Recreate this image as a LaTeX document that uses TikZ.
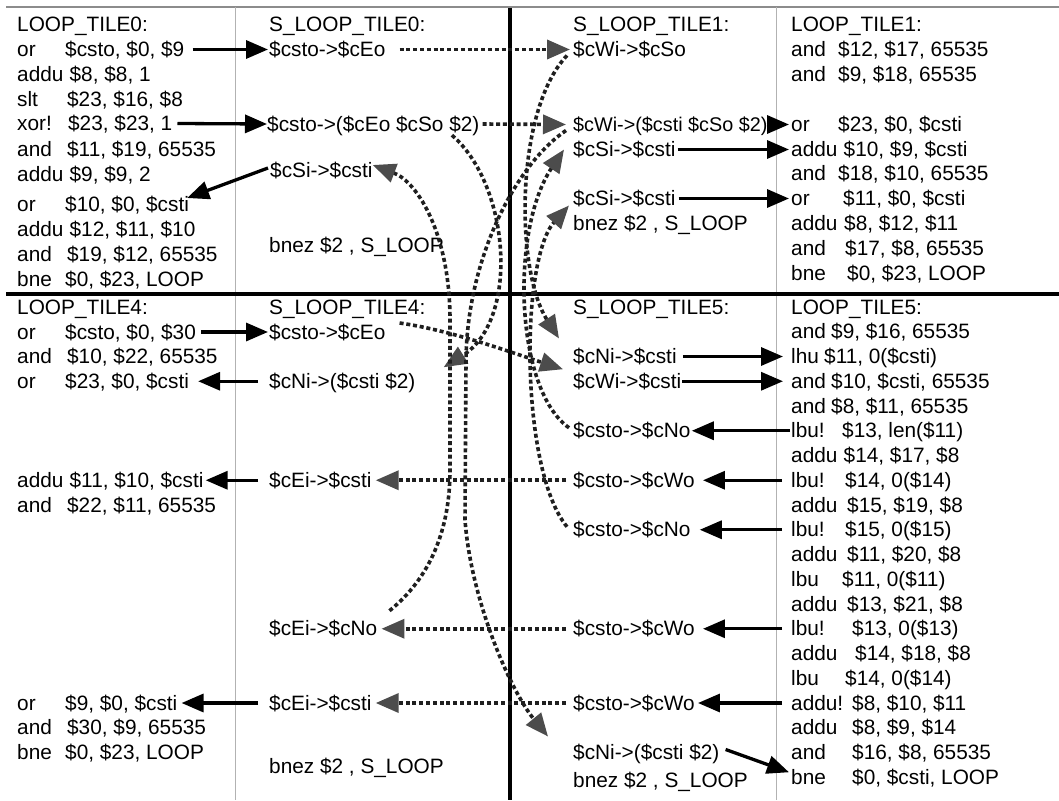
\documentclass[tikz,border=0pt]{standalone}
\usepackage{fontspec}
\setmainfont{Liberation Sans}
\usetikzlibrary{arrows.meta,calc}
\newcommand\op[3][50pt]{\makebox[#1][l]{#2}#3}
\tikzset{
  txt/.style={anchor=west, inner sep=0pt, text height=18pt, text depth=4pt, font=\fontsize{20.8}{25}\selectfont},
  sarrow/.style={line width=3.3pt, -{Triangle[length=22pt,width=18pt]}},
  darrow/.style={line width=3.6pt, dash pattern=on 4pt off 2.8pt, draw=black!88, -{Triangle[length=23pt,width=19pt,color=black!70]}},
  thinrule/.style={line width=1pt, draw=black!30},
  thickrule/.style={line width=3.5pt, draw=black},
}
\begin{document}
\begin{tikzpicture}[x=1pt,y=-1pt]
\useasboundingbox (0,0) rectangle (1059,800);
\fill[white] (0,0) rectangle (1059,800);
% frame lines
\draw[line width=1.5pt, draw=black!45] (6,7) -- (1059,7);
\draw[thinrule] (235,7) -- (235,800);
\draw[thinrule] (776,7) -- (776,800);
\draw[thickrule] (6,294) -- (1059,294);
\draw[thickrule] (510,8) -- (510,800);

% ---- top left: LOOP_TILE0
\node[txt] (L0h) at (17,25) {LOOP\_TILE0:};
\node[txt] (L0a) at (17,49.5) {\op[48pt]{or}{\$csto, \$0, \$9}};
\node[txt] (L0b) at (17,74.5) {\op[52.5pt]{addu}{\$8, \$8, 1}};
\node[txt] (L0c) at (17,99) {\op{slt}{\$23, \$16, \$8}};
\node[txt] (L0d) at (17,123.5) {\op[51pt]{xor!}{\$23, \$23, 1}};
\node[txt] (L0e) at (17,149) {\op{and}{\$11, \$19, 65535}};
\node[txt] (L0f) at (17,174) {\op[52.5pt]{addu}{\$9, \$9, 2}};
\node[txt] (L0g) at (17,204) {\op[48pt]{or}{\$10, \$0, \$csti}};
\node[txt] (L0k) at (17,229) {\op[52.5pt]{addu}{\$12, \$11, \$10}};
\node[txt] (L0i) at (17,254) {\op{and}{\$19, \$12, 65535}};
\node[txt] (L0j) at (17,279) {\op[48pt]{bne}{\$0, \$23, LOOP}};

% ---- S_LOOP_TILE0
\node[txt] (S0h) at (269,25) {S\_LOOP\_TILE0:};
\node[txt] (S0a) at (269,49.5) {\$csto->\$cEo};
\node[txt] (S0b) at (267,124) {\$csto->(\$cEo \$cSo \$2)};
\node[txt] (S0c) at (270,170) {\$cSi->\$csti};
\node[txt] (S0d) at (269,245) {bnez \$2 , S\_LOOP};

% ---- S_LOOP_TILE1
\node[txt] (S1h) at (573,25) {S\_LOOP\_TILE1:};
\node[txt] (S1a) at (573,49.5) {\$cWi->\$cSo};
\node[txt, font=\fontsize{19.8}{24}\selectfont] (S1b) at (573,124.5) {\$cWi->(\$csti \$cSo \$2)};
\node[txt] (S1c) at (573,149.5) {\$cSi->\$csti};
\node[txt] (S1d) at (573,198.5) {\$cSi->\$csti};
\node[txt] (S1e) at (573,223.5) {bnez \$2 , S\_LOOP};

% ---- LOOP_TILE1
\node[txt] (L1h) at (791,25) {LOOP\_TILE1:};
\node[txt] (L1a) at (791,49.5) {\op[47pt]{and}{\$12, \$17, 65535}};
\node[txt] (L1b) at (791,74.5) {\op[47pt]{and}{\$9, \$18, 65535}};
\node[txt] (L1c) at (791,124.5) {\op[47pt]{or}{\$23, \$0, \$csti}};
\node[txt] (L1d) at (791,149.5) {\op[52.5pt]{addu}{\$10, \$9, \$csti}};
\node[txt] (L1e) at (791,173.5) {\op[47pt]{and}{\$18, \$10, 65535}};
\node[txt] (L1f) at (791,198.5) {\op[52pt]{or}{\$11, \$0, \$csti}};
\node[txt] (L1g) at (791,223.5) {\op[53pt]{addu}{\$8, \$12, \$11}};
\node[txt] (L1k) at (791,248) {\op[54pt]{and}{\$17, \$8, 65535}};
\node[txt] (L1i) at (791,273) {\op[56pt]{bne}{\$0, \$23, LOOP}};

% ---- LOOP_TILE4
\node[txt] (L4h) at (17,307) {LOOP\_TILE4:};
\node[txt] (L4a) at (17,332) {\op[48pt]{or}{\$csto, \$0, \$30}};
\node[txt] (L4b) at (17,356.5) {\op{and}{\$10, \$22, 65535}};
\node[txt] (L4c) at (17,381.25) {\op[48pt]{or}{\$23, \$0, \$csti}};
\node[txt] (L4d) at (17,480.25) {\op[52.5pt]{addu}{\$11, \$10, \$csti}};
\node[txt] (L4e) at (17,505) {\op{and}{\$22, \$11, 65535}};
\node[txt] (L4f) at (17,703) {\op[48pt]{or}{\$9, \$0, \$csti}};
\node[txt] (L4g) at (17,727.5) {\op{and}{\$30, \$9, 65535}};
\node[txt] (L4i) at (17,752) {\op[48pt]{bne}{\$0, \$23, LOOP}};

% ---- S_LOOP_TILE4
\node[txt] (S4h) at (269,307) {S\_LOOP\_TILE4:};
\node[txt] (S4a) at (269,332) {\$csto->\$cEo};
\node[txt] (S4b) at (269,381.25) {\$cNi->(\$csti \$2)};
\node[txt] (S4c) at (269,480.25) {\$cEi->\$csti};
\node[txt] (S4d) at (269,628.75) {\$cEi->\$cNo};
\node[txt] (S4e) at (269,703) {\$cEi->\$csti};
\node[txt] (S4f) at (269,766) {bnez \$2 , S\_LOOP};

% ---- S_LOOP_TILE5
\node[txt] (S5h) at (573,307) {S\_LOOP\_TILE5:};
\node[txt] (S5a) at (573,356.5) {\$cNi->\$csti};
\node[txt] (S5b) at (573,381.25) {\$cWi->\$csti};
\node[txt] (S5c) at (573,430.75) {\$csto->\$cNo};
\node[txt] (S5d) at (573,480.25) {\$csto->\$cWo};
\node[txt] (S5e) at (573,529.75) {\$csto->\$cNo};
\node[txt] (S5f) at (573,628.75) {\$csto->\$cWo};
\node[txt] (S5g) at (573,703) {\$csto->\$cWo};
\node[txt] (S5i) at (573,752.5) {\$cNi->(\$csti \$2)};
\node[txt] (S5j) at (573,780) {bnez \$2 , S\_LOOP};

% ---- LOOP_TILE5
\node[txt] (L5a) at (791,307) {LOOP\_TILE5:};
\node[txt] (L5b) at (791,331.75) {\op[40pt]{and}{\$9, \$16, 65535}};
\node[txt] (L5c) at (791,356.5) {\op[33pt]{lhu}{\$11, 0(\$csti)}};
\node[txt] (L5d) at (791,381.25) {\op[40pt]{and}{\$10, \$csti, 65535}};
\node[txt] (L5e) at (791,406) {\op[40pt]{and}{\$8, \$11, 65535}};
\node[txt] (L5f) at (791,430.75) {\op[51pt]{lbu!}{\$13, len(\$11)}};
\node[txt] (L5g) at (791,455.5) {\op[52.5pt]{addu}{\$14, \$17, \$8}};
\node[txt] (L5k) at (791,480.25) {\op[54pt]{lbu!}{\$14, 0(\$14)}};
\node[txt] (L5l) at (791,505) {\op[56pt]{addu}{\$15, \$19, \$8}};
\node[txt] (L5m) at (791,529.75) {\op[54pt]{lbu!}{\$15, 0(\$15)}};
\node[txt] (L5n) at (791,554.5) {\op[56pt]{addu}{\$11, \$20, \$8}};
\node[txt] (L5o) at (791,579.25) {\op[51pt]{lbu}{\$11, 0(\$11)}};
\node[txt] (L5p) at (791,604) {\op[56pt]{addu}{\$13, \$21, \$8}};
\node[txt] (L5q) at (791,628.75) {\op[61pt]{lbu!}{\$13, 0(\$13)}};
\node[txt] (L5r) at (791,653.5) {\op[64pt]{addu}{\$14, \$18, \$8}};
\node[txt] (L5s) at (791,678.25) {\op[54pt]{lbu}{\$14, 0(\$14)}};
\node[txt] (L5t) at (791,703) {\op[61pt]{addu!}{\$8, \$10, \$11}};
\node[txt] (L5u) at (791,727.75) {\op[61pt]{addu}{\$8, \$9, \$14}};
\node[txt] (L5v) at (791,752.5) {\op[61pt]{and}{\$16, \$8, 65535}};
\node[txt] (L5w) at (791,777.25) {\op[61pt]{bne}{\$0, \$csti, LOOP}};

% ---- solid arrows
\draw[sarrow] ([xshift=8pt]L0a.east) -- ([xshift=-1pt]S0a.west);
\draw[sarrow] ([xshift=5pt]L0d.east) -- (S0b.west);
\draw[sarrow] ([xshift=-2pt,yshift=2pt]S0c.west) -- ([xshift=-2pt,yshift=6pt]L0g.east);
\draw[sarrow] ([xshift=-1pt]S1b.east) -- ([xshift=-2pt]L1c.west);
\draw[sarrow] ([xshift=2pt]S1c.east) -- ([xshift=-2pt]L1d.west);
\draw[sarrow] ([xshift=3pt]S1d.east) -- ([xshift=-2pt]L1f.west);
\draw[sarrow] ([xshift=5pt]L4a.east) -- ([xshift=-1pt]S4a.west);
\draw[sarrow] ([xshift=-11pt]S4b.west) -- ([xshift=9pt]L4c.east);
\draw[sarrow] ([xshift=6pt]S5a.east) -- ([xshift=-8pt]L5c.west);
\draw[sarrow] ([xshift=1pt]S5b.east) -- ([xshift=-8pt]L5d.west);
\draw[sarrow] ([xshift=-1pt]L5f.west) -- ([xshift=1pt]S5c.east);
\draw[sarrow] ([xshift=-9pt]L5k.west) -- ([xshift=8pt]S5d.east);
\draw[sarrow] ([xshift=-9pt]L5m.west) -- ([xshift=9pt]S5e.east);
\draw[sarrow] ([xshift=-11pt]S4c.west) -- ([xshift=2pt]L4d.east);
\draw[sarrow] ([xshift=-9pt]L5q.west) -- ([xshift=8pt]S5f.east);
\draw[sarrow] ([xshift=-9pt]L5t.west) -- ([xshift=3pt]S5g.east);
\draw[sarrow] ([xshift=-11pt]S4e.west) -- ([xshift=4pt]L4f.east);
\draw[sarrow] ([xshift=6pt,yshift=3pt]S5i.east) -- ([xshift=-2pt,yshift=5pt]L5w.west);

% ---- dotted arrows
\draw[darrow] ([xshift=14pt]S0a.east) -- ([xshift=-3pt]S1a.west);
\draw[darrow] ([xshift=3pt]S0b.east) -- ([xshift=-7pt]S1b.west);
\draw[darrow] ($(S0b.south west)!0.87!(S0b.south east)$) .. controls (510,185) and (520,320) .. ([xshift=28pt,yshift=14pt]S4b.east);
\draw[darrow] ([xshift=12pt,yshift=18pt]S4d.east) .. controls (430,578) and (450,530) .. (450,470) -- (450,320) .. controls (450,235) and (418,182) .. ([yshift=5pt]S0c.east);
\draw[darrow] ([xshift=-6pt,yshift=-6pt]S1a.west) .. controls (515,110) and (515,270) .. ([xshift=-14pt,yshift=18pt]S5a.west);
\draw[darrow] ([xshift=-7pt,yshift=-6pt]S1b.west) .. controls (515,165) and (467,260) .. (466,360) -- (465,520) .. controls (471,600) and (510,690) .. ([xshift=-25pt,yshift=16pt]S5i.west);
\draw[darrow] ([xshift=-4pt,yshift=3pt]S5c.west) .. controls (515,390) and (510,230) .. ([xshift=-9pt]S1c.west);
\draw[darrow] ([xshift=-6pt,yshift=3pt]S5e.west) .. controls (520,470) and (520,260) .. ([xshift=-4pt,yshift=-7pt]S1d.west);
\draw[darrow] ([xshift=14pt,yshift=9pt]S4a.east) .. controls (450,330) and (510,352) .. ([xshift=-10pt,yshift=12pt]S5b.west);
\draw[darrow] ([xshift=-7pt]S5d.west) -- ([xshift=4pt]S4c.east);
\draw[darrow] ([xshift=-7pt]S5f.west) -- ([xshift=4pt]S4d.east);
\draw[darrow] ([xshift=-7pt]S5g.west) -- ([xshift=4pt]S4e.east);
\end{tikzpicture}
\end{document}
